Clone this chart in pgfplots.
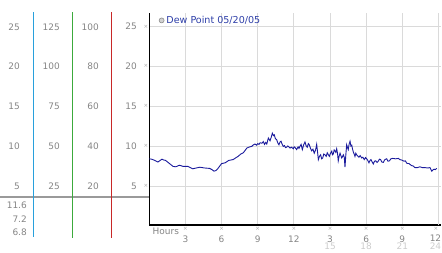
\documentclass[border=0pt]{standalone}
\usepackage{fontspec}
\setmainfont{DejaVu Sans}
\usepackage{pgfplots}
\pgfplotsset{compat=1.18}
\definecolor{gridgray}{HTML}{DADADA}
\definecolor{lblgray}{HTML}{858585}
\definecolor{lightlbl}{HTML}{CCCCCC}
\definecolor{markgray}{HTML}{A8A8A8}
\definecolor{navy}{HTML}{1A1A9C}
\definecolor{legblue}{HTML}{2E3FA8}
\definecolor{lineA}{RGB}{40,160,220}
\definecolor{lineB}{RGB}{60,170,60}
\definecolor{lineC}{RGB}{200,40,40}
\definecolor{sepgray}{HTML}{9A9A9A}
\newcommand{\lbl}{\fontsize{9}{9}\selectfont}
\newcommand{\mk}{\fontsize{5.5}{5.5}\selectfont ×}
\begin{document}
\begin{tikzpicture}
\useasboundingbox (-149.3bp,-28bp) rectangle (292.7bp,225bp);
\begin{axis}[
  scale only axis, width=291.6bp, height=212bp,
  xmin=0, xmax=24.2, ymin=0.125, ymax=26.625,
  axis x line*=bottom, axis y line*=left,
  axis line style={black, line width=1.2bp, -},
  clip=false,
  xtick={3,6,...,21}, ytick={5,10,...,25},
  extra x ticks={24}, extra x tick labels={},
  xticklabels={3,6,9,12,3,6,9},
  yticklabels={5,10,15,20,25},
  major tick length=0pt,
  grid=major,
  major grid style={gridgray, line width=0.8bp},
  extra x tick style={grid=major, major grid style={gridgray, line width=0.8bp}},
  /pgf/number format/assume math mode=true,
  xticklabel style={text=lblgray, font=\lbl, anchor=base, yshift=-17bp},
  yticklabel style={text=lblgray, font=\lbl, anchor=east, xshift=-9bp},
  legend style={at={(rel axis cs:0.032,0.965)}, anchor=west, draw=none, fill=none,
     font=\fontsize{9.6}{10}\selectfont, text=legblue, inner sep=0pt,
     /tikz/every even column/.append style={column sep=0pt}},
  legend image code/.code={\draw[fill=gray!35, draw=gray!90, line width=0.6bp] (0.05cm,0cm) circle (2.5bp);},
]
\addplot[navy, line width=0.9bp] coordinates {
(0,8.4) (0.2,8.35) (0.45,8.2) (0.72,8.0) (0.9,8.2) (1.05,8.35) (1.2,8.25) (1.35,8.2)
(1.6,7.9) (1.97,7.45) (2.2,7.4) (2.5,7.6) (2.8,7.45) (3.2,7.45) (3.6,7.15) (3.9,7.25)
(4.2,7.35) (4.6,7.25) (5.0,7.2) (5.2,7.05) (5.37,6.85) (5.55,6.95) (5.7,7.2) (6.0,7.8)
(6.3,7.9) (6.6,8.2) (6.95,8.3) (7.36,8.7) (7.6,9.0) (7.8,9.15) (8.1,9.75) (8.35,9.9)
(8.5,9.95) (8.6,10.1) (8.77,10.25) (8.9,10.1) (9.0,10.3) (9.1,10.2) (9.19,10.4) (9.35,10.35)
(9.46,10.55) (9.56,10.2) (9.66,10.45) (9.75,10.25) (9.88,11.0) (10.02,10.65) (10.12,11.1)
(10.21,11.6) (10.3,11.3) (10.37,11.4) (10.47,10.9) (10.57,10.8) (10.66,10.4) (10.76,10.15)
(10.85,10.5) (10.93,10.6) (11.03,10.2) (11.12,9.95) (11.22,10.05) (11.3,9.8) (11.4,9.85)
(11.48,10.0) (11.55,9.95) (11.68,9.75) (11.8,9.85) (11.95,9.65) (12.02,9.9) (12.1,9.8)
(12.23,9.55) (12.35,9.9) (12.42,9.7) (12.5,9.95) (12.6,10.2) (12.7,9.55) (12.8,10.1)
(12.92,10.5) (13.02,10.0) (13.11,9.85) (13.2,10.3) (13.28,10.15) (13.38,9.7) (13.47,9.4)
(13.58,9.6) (13.69,9.1) (13.8,9.5) (13.89,10.2) (13.96,9.3) (14.03,8.3) (14.12,8.7)
(14.22,8.9) (14.3,8.4) (14.39,8.5) (14.48,9.0) (14.58,8.9) (14.68,8.7) (14.77,9.15)
(14.86,8.9) (14.94,8.7) (15.04,9.1) (15.14,9.35) (15.2,8.9) (15.27,9.0) (15.34,9.5)
(15.41,9.4) (15.48,9.2) (15.55,9.65) (15.62,9.1) (15.68,8.15) (15.75,8.7) (15.83,9.1)
(15.9,8.8) (15.97,8.5) (16.04,8.7) (16.1,8.9) (16.18,8.6) (16.24,7.35) (16.31,8.9)
(16.38,10.15) (16.45,9.8) (16.51,9.55) (16.58,10.2) (16.66,10.6) (16.73,10.0) (16.8,10.1)
(16.87,9.6) (16.93,9.25) (17.0,9.0) (17.07,8.7) (17.14,9.1) (17.21,8.9) (17.3,8.75)
(17.4,8.6) (17.5,8.8) (17.63,8.5) (17.72,8.6) (17.84,8.3) (17.94,8.55) (18.04,8.4)
(18.13,8.2) (18.23,7.9) (18.32,8.2) (18.4,8.3) (18.5,8.0) (18.59,7.75) (18.69,8.1)
(18.79,8.15) (18.9,7.95) (19.0,8.1) (19.1,8.35) (19.2,8.3) (19.3,8.0) (19.42,7.95)
(19.55,8.3) (19.7,8.4) (19.8,8.1) (19.93,8.15) (20.05,8.4) (20.2,8.45) (20.45,8.4)
(20.67,8.45) (20.8,8.3) (20.94,8.25) (21.15,8.1) (21.25,8.15) (21.36,7.85) (21.55,7.8)
(21.77,7.55) (21.9,7.5) (22.05,7.3) (22.25,7.3) (22.46,7.4) (22.65,7.3) (22.88,7.3)
(23.1,7.25) (23.29,7.3) (23.44,6.85) (23.53,7.0) (23.63,7.1) (23.75,7.05) (23.85,7.2)
};
\addlegendentry{Dew Point 05/20/05}
\end{axis}
\begin{scope}[shift={(-149.3bp,225bp)}, x=1bp, y=-1bp]
  % separator and coloured column lines
  \draw[sepgray, line width=1.8bp] (0,197) -- (149.3,197);
  \fill[lineA] (32.9,12) rectangle (34.1,237);
  \fill[lineB] (71.9,12) rectangle (73.1,238);
  \fill[lineC] (110.9,12) rectangle (112.1,238);
  % column labels
  \foreach \y/\a/\b/\c in {27/25/125/100, 66/20/100/80, 106/15/75/60, 146/10/50/40, 186/5/25/20}{
    \node[anchor=east, inner sep=0pt, text=lblgray, font=\lbl] at (20,\y) {\a};
    \node[anchor=east, inner sep=0pt, text=lblgray, font=\lbl] at (60,\y) {\b};
    \node[anchor=east, inner sep=0pt, text=lblgray, font=\lbl] at (99,\y) {\c};
    \node[inner sep=0pt, text=markgray] at (146,\y) {\mk};
  }
  % statistics
  \node[anchor=east, inner sep=0pt, text=lblgray, font=\lbl] at (27,205) {11.6};
  \node[anchor=east, inner sep=0pt, text=lblgray, font=\lbl] at (27,219) {7.2};
  \node[anchor=east, inner sep=0pt, text=lblgray, font=\lbl] at (27,232) {6.8};
  % x axis extras
  \node[anchor=west, inner sep=0pt, text=lblgray, font=\lbl] at (152.5,231.5) {Hours};
  \foreach \x in {3,6,...,21}{
    \node[inner sep=0pt, text=markgray] at ({149.3+12.05*\x},228.5) {\mk};
  }
  \node[inner sep=0pt, text=markgray] at (436,228.5) {\mk};
  \node[anchor=base, inner sep=0pt, text=lblgray, font=\lbl] at (435.5,241.5) {12};
  \foreach \x/\t in {15/15,18/18,21/21}{
    \node[inner sep=0pt, text=lightlbl, font=\lbl] at ({149.3+12.05*\x},246.5) {\t};
  }
  \node[inner sep=0pt, text=lightlbl, font=\lbl] at (435.5,246.5) {24};
\end{scope}
\end{tikzpicture}
\end{document}
